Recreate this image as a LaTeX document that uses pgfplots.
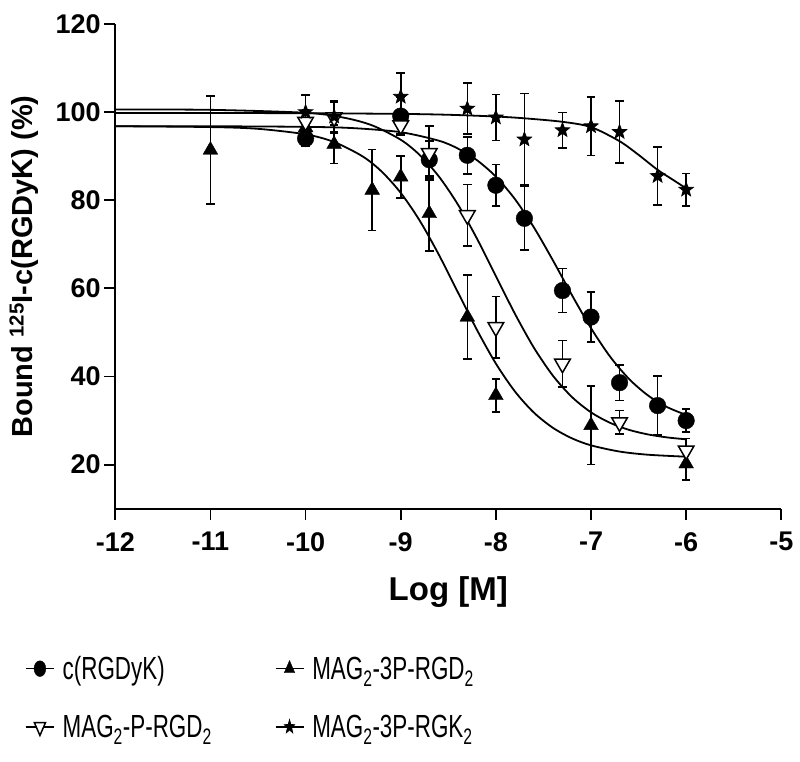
\documentclass[border=0pt]{standalone}
\usepackage{pgfplots}
\pgfplotsset{compat=1.18}
\usepackage{fontspec}
\setmainfont{Liberation Sans}
\newfontfamily\narrowfont{Liberation Sans}[FakeStretch=0.7]
\usetikzlibrary{plotmarks}
\pgfdeclareplotmark{fstar}{%
  \pgfpathmoveto{\pgfpointpolar{90}{\pgfplotmarksize}}%
  \pgfpathlineto{\pgfpointpolar{126}{0.42\pgfplotmarksize}}%
  \pgfpathlineto{\pgfpointpolar{162}{\pgfplotmarksize}}%
  \pgfpathlineto{\pgfpointpolar{198}{0.42\pgfplotmarksize}}%
  \pgfpathlineto{\pgfpointpolar{234}{\pgfplotmarksize}}%
  \pgfpathlineto{\pgfpointpolar{270}{0.42\pgfplotmarksize}}%
  \pgfpathlineto{\pgfpointpolar{306}{\pgfplotmarksize}}%
  \pgfpathlineto{\pgfpointpolar{342}{0.42\pgfplotmarksize}}%
  \pgfpathlineto{\pgfpointpolar{18}{\pgfplotmarksize}}%
  \pgfpathlineto{\pgfpointpolar{54}{0.42\pgfplotmarksize}}%
  \pgfpathclose
  \pgfusepathqfillstroke}
\begin{document}
\begin{tikzpicture}
\begin{axis}[
  at={(0pt,0pt)}, anchor=south west,
  scale only axis, width=666pt, height=484.7pt,
  xmin=-12, xmax=-5, ymin=10, ymax=120,
  axis lines=left, axis line style={-, line width=1.8pt},
  xtick={-12,-11,-10,-9,-8,-7,-6,-5}, ytick={20,40,60,80,100,120},
  xticklabels={-12,-11,-10,-9,-8,-7,-6,-5},
  yticklabels={20,40,60,80,100,120},
  tick align=outside, major tick length=11pt,
  tick style={line width=1.8pt, black},
  ticklabel style={font=\bfseries\fontsize{27}{27}\selectfont},
  xticklabel style={yshift=-9pt},
  xlabel={Log [M]},
  ylabel={Bound \textsuperscript{125}I-c(RGDyK) (\%)},
  every axis x label/.style={at={(axis description cs:0.5,-0.19)}, anchor=base,
    font=\bfseries\fontsize{33}{33}\selectfont},
  every axis y label/.style={at={(axis description cs:-0.137,0.5)}, rotate=90, anchor=center,
    font=\bfseries\fontsize{29}{29}\selectfont},
  clip=false,
  legend columns=2,
  legend cell align=left,
  legend style={draw=none, fill=none, at={(axis description cs:-0.1356,-0.3)}, anchor=north west,
    font=\narrowfont\fontsize{32}{38}\selectfont, row sep=30pt, inner sep=0pt,
    /tikz/every odd column/.append style={column sep=6pt},
    /tikz/every even column/.append style={column sep=61pt}},
  legend image code/.code={
    \draw[line width=1.5pt] (0pt,0pt) -- (28pt,0pt);
    \draw[#1, every mark/.append style={xscale=0.75, scale=0.95}] plot coordinates {(14pt,0pt)};
  },
]
% fitted curves
\addplot[black, line width=1.8pt, smooth, forget plot] coordinates {
(-12,96.8)(-11,96.79)(-10,96.66)(-9.5,96.37)(-9,95.45)(-8.6,93.52)(-8.4,91.74)(-8.2,89.11)(-8,85.36)(-7.8,80.27)(-7.6,73.83)(-7.4,66.34)(-7.2,58.46)(-7,50.97)(-6.8,44.53)(-6.6,39.44)(-6.4,35.69)(-6.2,33.06)(-6,31.28)};
\addplot[black, line width=1.8pt, smooth, forget plot] coordinates {
(-12,100.59)(-11,100.52)(-10,99.85)(-9.6,98.75)(-9.3,96.99)(-9,93.73)(-8.8,90.26)(-8.6,85.42)(-8.4,79.07)(-8.2,71.35)(-8,62.8)(-7.8,54.25)(-7.6,46.53)(-7.4,40.18)(-7.2,35.34)(-7,31.87)(-6.8,29.49)(-6.6,27.89)(-6.4,26.85)(-6.2,26.18)(-6,25.75)};
\addplot[black, line width=1.8pt, smooth, forget plot] coordinates {
(-12,96.8)(-11,96.61)(-10.5,96.21)(-10,94.96)(-9.7,93.21)(-9.4,89.95)(-9.2,86.5)(-9,81.68)(-8.8,75.36)(-8.6,67.67)(-8.4,59.15)(-8.2,50.63)(-8,42.94)(-7.8,36.62)(-7.6,31.8)(-7.4,28.35)(-7.2,25.97)(-7,24.38)(-6.7,22.97)(-6.4,22.25)(-6,21.8)};
\addplot[black, line width=1.8pt, smooth, forget plot] coordinates {
(-12,99.8)(-11,99.8)(-10,99.75)(-9,99.6)(-8.5,99.4)(-8,99.0)(-7.7,98.6)(-7.3,97.8)(-7,96.6)(-6.7,93.4)(-6.5,90.3)(-6.3,86.9)(-6.15,84.8)(-6,82.7)};
% data: c(RGDyK)
\addplot[black, only marks, mark=*, mark size=8.3pt,
  error bars/.cd, y dir=both, y explicit, error bar style={line width=1.6pt},
  error mark options={rotate=90, mark size=4.3pt, line width=1.6pt}] coordinates {
(-10,94.0) +- (0,1.7)
(-9,99.1) +- (0,4.3)
(-8.7,89.2) +- (0,4.2)
(-8.3,90.2) +- (0,4.2)
(-8,83.4) +- (0,4.7)
(-7.7,75.9) +- (0,7.2)
(-7.3,59.5) +- (0,5.0)
(-7,53.5) +- (0,5.7)
(-6.7,38.6) +- (0,4.0)
(-6.3,33.4) +- (0,6.7)
(-6,30.0) +- (0,2.6)};
\addlegendentry{c(RGDyK)}
% MAG2-3P-RGD2
\addplot[black, only marks, mark=triangle*, mark size=8.5pt,
  error bars/.cd, y dir=both, y explicit, error bar style={line width=1.6pt},
  error mark options={rotate=90, mark size=4.3pt, line width=1.6pt}] coordinates {
(-11,91.4) +- (0,12.3)
(-10,96.5) +- (0,2.0)
(-9.7,92.7) +- (0,4.4)
(-9.3,82.3) +- (0,9.2)
(-9,85.3) +- (0,4.8)
(-8.7,77.0) +- (0,8.5)
(-8.3,53.5) +- (0,9.5)
(-8,35.7) +- (0,3.8)
(-7,28.9) +- (0,8.9)
(-6,20.2) +- (0,3.7)};
\addlegendentry{MAG\textsubscript{2}-3P-RGD\textsubscript{2}}
% MAG2-P-RGD2
\addplot[black, only marks, mark=triangle*, mark size=9pt, mark options={fill=white, rotate=180, line width=1.5pt},
  error bars/.cd, y dir=both, y explicit, error bar style={line width=1.6pt},
  error mark options={rotate=90, mark size=4.3pt, line width=1.6pt}] coordinates {
(-10,97.8) +- (0,2.5)
(-9.7,98.8) +- (0,3.5)
(-9,97.0) +- (0,2.0)
(-8.7,90.7) +- (0,6.1)
(-8.3,76.6) +- (0,7.0)
(-8,51.2) +- (0,7.0)
(-7.3,42.9) +- (0,5.3)
(-6.7,29.6) +- (0,2.7)
(-6,23.2) +- (0,2.7)};
\addlegendentry{MAG\textsubscript{2}-P-RGD\textsubscript{2}}
% MAG2-3P-RGK2
\addplot[black, only marks, mark=fstar, mark size=7.5pt, mark options={fill=black, line width=0.8pt},
  error bars/.cd, y dir=both, y explicit, error bar style={line width=1.6pt},
  error mark options={rotate=90, mark size=4.3pt, line width=1.6pt}] coordinates {
(-10,100.0) +- (0,3.9)
(-9.7,99.0) +- (0,3.5)
(-9,103.5) +- (0,5.4)
(-8.3,100.8) +- (0,5.8)
(-8,98.8) +- (0,5.2)
(-7.7,93.8) +- (0,10.4)
(-7.3,95.9) +- (0,4.0)
(-7,96.8) +- (0,6.6)
(-6.7,95.5) +- (0,7.0)
(-6.3,85.5) +- (0,6.6)
(-6,82.4) +- (0,3.7)};
\addlegendentry{MAG\textsubscript{2}-3P-RGK\textsubscript{2}}
\end{axis}
\pgfresetboundingbox
\path (-115.3pt,-252.3pt) rectangle (684.7pt,508.7pt);
\end{tikzpicture}
\end{document}
